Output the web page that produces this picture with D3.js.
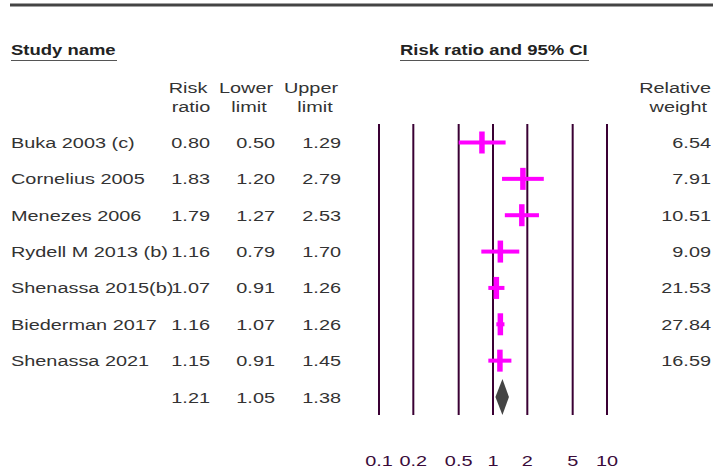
<!DOCTYPE html>
<html>
<head>
<meta charset="utf-8">
<script src="https://cdn.jsdelivr.net/npm/d3@7"></script>
<style>
  body { margin: 0; background: #fff; }
  text { font-family: "Liberation Sans", Arial, sans-serif; }
</style>
</head>
<body>
<svg id="chart" width="713" height="472"></svg>
<script>
// data
const studies = ["Buka 2003 (c)", "Cornelius 2005", "Menezes 2006", "Rydell M 2013 (b)",
                 "Shenassa 2015(b)", "Biederman 2017", "Shenassa 2021"]
const riskRatio = [0.80, 1.83, 1.79, 1.16, 1.07, 1.16, 1.15]
const lowerLimit = [0.50, 1.20, 1.27, 0.79, 0.91, 1.07, 0.91]
const upperLimit = [1.29, 2.79, 2.53, 1.70, 1.26, 1.26, 1.45]
const weights = ["6.54", "7.91", "10.51", "9.09", "21.53", "27.84", "16.59"]
const summary = {rr: 1.21, lo: 1.05, hi: 1.38}
const tickValues = [0.1, 0.2, 0.5, 1, 2, 5, 10]

const svg = d3.select("#chart")
const sx = 1.42   // text in the original is stretched sideways
const sxBold = 1.32

const x = d3.scaleLog().domain([0.1, 10]).range([379, 607])
const y = d3.scaleLinear().domain([0, 7]).range([142.5, 397])

function addText(txt, px, py, anchor, opts = {}) {
    const t = svg.append("text")
        .attr("transform", `translate(${px},${py}) scale(${opts.bold ? sxBold : sx},1)`)
        .attr("text-anchor", anchor)
        .attr("font-size", 14)
        .attr("fill", opts.fill || "#333")
        .attr("font-weight", opts.bold ? "bold" : null)
        .text(txt)
    return t
}

// top rule
svg.append("line")
    .attr("x1", 10).attr("x2", 713).attr("y1", 5).attr("y2", 5)
    .attr("stroke", "#444").attr("stroke-width", 3)

// section titles
addText("Study name", 11, 55, "start", {bold: true, fill: "#222"})
svg.append("line").attr("x1", 11).attr("x2", 117).attr("y1", 60.5).attr("y2", 60.5)
    .attr("stroke", "#555").attr("stroke-width", 1)
addText("Risk ratio and 95% CI", 400, 55, "start", {bold: true, fill: "#222"})
svg.append("line").attr("x1", 400).attr("x2", 589).attr("y1", 60.5).attr("y2", 60.5)
    .attr("stroke", "#555").attr("stroke-width", 1)

// column headers
addText("Risk", 188, 93, "middle")
addText("ratio", 191, 112, "middle")
addText("Lower", 246, 93, "middle")
addText("limit", 249, 112, "middle")
addText("Upper", 311, 93, "middle")
addText("limit", 315, 112, "middle")
addText("Relative", 711, 93, "end")
addText("weight", 707, 112, "end")

// grid lines at tick values
svg.selectAll(".grid")
    .data(tickValues)
    .join("line")
    .attr("class", "grid")
    .attr("x1", d => x(d)).attr("x2", d => x(d))
    .attr("y1", 124).attr("y2", 415)
    .attr("stroke", "#3a0034").attr("stroke-width", 2)

// table rows
studies.forEach((s, i) => {
    const yy = y(i) + 5.5
    addText(s, 11, yy, "start")
    addText(riskRatio[i].toFixed(2), 210, yy, "end")
    addText(lowerLimit[i].toFixed(2), 275, yy, "end")
    addText(upperLimit[i].toFixed(2), 341, yy, "end")
    addText(weights[i], 711, yy, "end")
})
addText(summary.rr.toFixed(2), 210, y(7) + 5.5, "end")
addText(summary.lo.toFixed(2), 275, y(7) + 5.5, "end")
addText(summary.hi.toFixed(2), 341, y(7) + 5.5, "end")

// CI bars
svg.selectAll(".ci")
    .data(studies)
    .join("rect")
    .attr("class", "ci")
    .attr("x", (d, i) => x(lowerLimit[i]))
    .attr("width", (d, i) => x(upperLimit[i]) - x(lowerLimit[i]))
    .attr("y", (d, i) => y(i) - 2)
    .attr("height", 4)
    .attr("fill", "#ff00ff")

// point estimates
svg.selectAll(".pt")
    .data(studies)
    .join("rect")
    .attr("class", "pt")
    .attr("x", (d, i) => x(riskRatio[i]) - 2.75)
    .attr("width", 5.5)
    .attr("y", (d, i) => y(i) - 11)
    .attr("height", 22)
    .attr("fill", "#ff00ff")

// summary diamond
const yd = y(7)
svg.append("path")
    .attr("d", `M${x(summary.lo)},${yd} L${x(summary.rr)},${yd - 18} L${x(summary.hi)},${yd} L${x(summary.rr)},${yd + 18} Z`)
    .attr("fill", "#444")

// axis labels
svg.selectAll(".tick-label")
    .data(tickValues)
    .join("text")
    .attr("class", "tick-label")
    .attr("transform", d => `translate(${x(d)},466) scale(${sx},1)`)
    .attr("text-anchor", "middle")
    .attr("font-size", 14)
    .attr("fill", "#3a0b3a")
    .text(d => d3.format("")(d))
</script>
</body>
</html>
